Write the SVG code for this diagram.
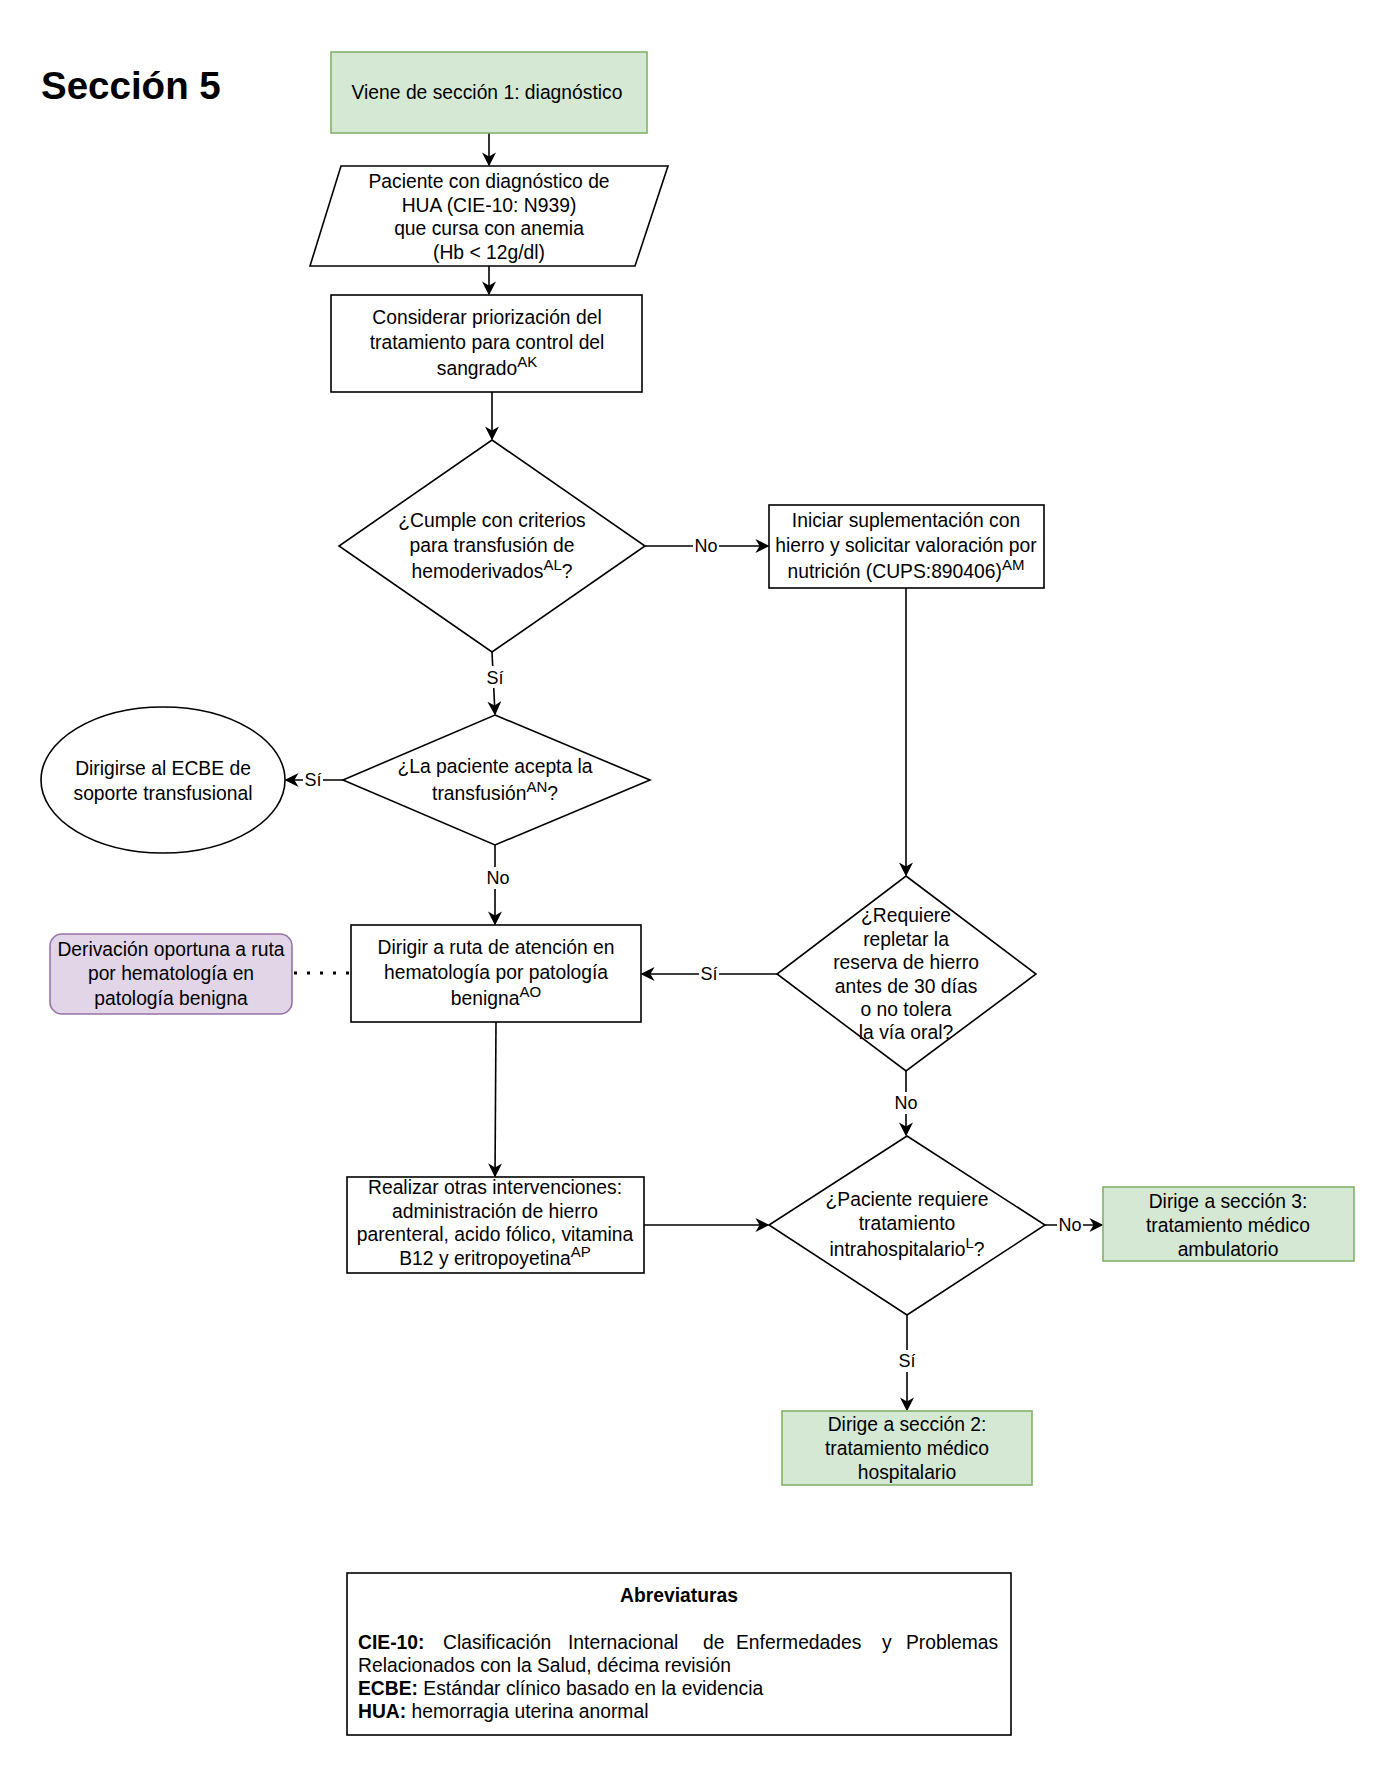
<svg xmlns="http://www.w3.org/2000/svg" width="1400" height="1784" viewBox="0 0 1400 1784">
<defs>
<style>
text{font-family:"Liberation Sans",Arial,sans-serif;font-size:19.3px;fill:#000}
.c{text-anchor:middle}
.sup{font-size:15px}
.box{fill:#fff;stroke:#000;stroke-width:1.6}
.green{fill:#d5e8d4;stroke:#82b366;stroke-width:1.6}
.purple{fill:#e1d5e7;stroke:#9673a6;stroke-width:1.6}
.ln{fill:none;stroke:#000;stroke-width:1.6}
.lbl{font-size:18px;text-anchor:middle}
.lb{fill:#fff}
.b{font-weight:bold}
</style>
<marker id="arrB" viewBox="0 0 10 10" refX="9" refY="5" markerWidth="14" markerHeight="14" markerUnits="userSpaceOnUse" orient="auto">
<path d="M0,0 L10,5 L0,10 L3,5 Z" fill="#000"/>
</marker>
</defs>
<rect width="1400" height="1784" fill="#fff"/>
<text x="41" y="99" class="b" style="font-size:38.5px">Sección 5</text>

<g id="connectors">
<line class="ln" x1="489" y1="133" x2="489" y2="165" marker-end="url(#arrB)"/>
<line class="ln" x1="489" y1="266" x2="489" y2="294" marker-end="url(#arrB)"/>
<line class="ln" x1="492" y1="392" x2="492" y2="439" marker-end="url(#arrB)"/>
<line class="ln" x1="645" y1="546" x2="768" y2="546" marker-end="url(#arrB)"/>
<line class="ln" x1="906" y1="588" x2="906" y2="875" marker-end="url(#arrB)"/>
<line class="ln" x1="492" y1="652" x2="495" y2="714" marker-end="url(#arrB)"/>
<line class="ln" x1="343" y1="780" x2="286" y2="780" marker-end="url(#arrB)"/>
<line class="ln" x1="495" y1="845" x2="495" y2="924" marker-end="url(#arrB)"/>
<line x1="294" y1="973" x2="350" y2="973" stroke="#000" stroke-width="3" stroke-dasharray="3 10"/>
<line class="ln" x1="777" y1="974" x2="642" y2="974" marker-end="url(#arrB)"/>
<line class="ln" x1="906" y1="1071" x2="906" y2="1135" marker-end="url(#arrB)"/>
<line class="ln" x1="496" y1="1022" x2="495" y2="1176" marker-end="url(#arrB)"/>
<line class="ln" x1="644" y1="1225" x2="768" y2="1225" marker-end="url(#arrB)"/>
<line class="ln" x1="1045" y1="1225" x2="1102" y2="1225" marker-end="url(#arrB)"/>
<line class="ln" x1="907" y1="1315" x2="907" y2="1410" marker-end="url(#arrB)"/>
<g>
<rect class="lb" x="693" y="535" width="26" height="22"/><text class="lbl" x="706" y="552">No</text>
<rect class="lb" x="484" y="666" width="22" height="22"/><text class="lbl" x="495" y="684">Sí</text>
<rect class="lb" x="303" y="769" width="20" height="22"/><text class="lbl" x="313" y="786">Sí</text>
<rect class="lb" x="485" y="867" width="26" height="22"/><text class="lbl" x="498" y="884">No</text>
<rect class="lb" x="699" y="963" width="20" height="22"/><text class="lbl" x="709" y="980">Sí</text>
<rect class="lb" x="893" y="1092" width="26" height="22"/><text class="lbl" x="906" y="1109">No</text>
<rect class="lb" x="1057" y="1214" width="26" height="22"/><text class="lbl" x="1070" y="1231">No</text>
<rect class="lb" x="897" y="1350" width="20" height="22"/><text class="lbl" x="907" y="1367">Sí</text>
</g>
</g>

<g id="n1">
<rect class="green" x="331" y="52" width="316" height="81"/>
<text class="c" x="487" y="99">Viene de sección 1: diagnóstico</text>
</g>
<g id="n2">
<polygon class="box" points="341,166 668,166 635,266 310,266"/>
<text class="c" x="489" y="188">Paciente con diagnóstico de</text>
<text class="c" x="489" y="212">HUA (CIE-10: N939)</text>
<text class="c" x="489" y="235">que cursa con anemia</text>
<text class="c" x="489" y="259">(Hb &lt; 12g/dl)</text>
</g>
<g id="n3">
<rect class="box" x="331" y="295" width="311" height="97"/>
<text class="c" x="487" y="324">Considerar priorización del</text>
<text class="c" x="487" y="349">tratamiento para control del</text>
<text class="c" x="487" y="375">sangrado<tspan class="sup" dy="-8">AK</tspan></text>
</g>
<g id="n4">
<polygon class="box" points="492,440 645,546 492,652 339,546"/>
<text class="c" x="492" y="527">¿Cumple con criterios</text>
<text class="c" x="492" y="552">para transfusión de</text>
<text class="c" x="492" y="578">hemoderivados<tspan class="sup" dy="-8">AL</tspan><tspan dy="8">?</tspan></text>
</g>
<g id="n5">
<rect class="box" x="769" y="505" width="275" height="83"/>
<text class="c" x="906" y="527">Iniciar suplementación con</text>
<text class="c" x="906" y="552">hierro y solicitar valoración por</text>
<text class="c" x="906" y="578">nutrición (CUPS:890406)<tspan class="sup" dy="-8">AM</tspan></text>
</g>
<g id="n6">
<polygon class="box" points="495,715 650,780 495,845 343,780"/>
<text class="c" x="495" y="773">¿La paciente acepta la</text>
<text class="c" x="495" y="800">transfusión<tspan class="sup" dy="-8">AN</tspan><tspan dy="8">?</tspan></text>
</g>
<g id="n7">
<ellipse class="box" cx="163" cy="780" rx="122" ry="73"/>
<text class="c" x="163" y="775">Dirigirse al ECBE de</text>
<text class="c" x="163" y="800">soporte transfusional</text>
</g>
<g id="n8">
<rect class="box" x="351" y="925" width="290" height="97"/>
<text class="c" x="496" y="954">Dirigir a ruta de atención en</text>
<text class="c" x="496" y="979">hematología por patología</text>
<text class="c" x="496" y="1005">benigna<tspan class="sup" dy="-8">AO</tspan></text>
</g>
<g id="n9">
<rect class="purple" x="50" y="934" width="242" height="80" rx="12" ry="12"/>
<text class="c" x="171" y="956">Derivación oportuna a ruta</text>
<text class="c" x="171" y="980">por hematología en</text>
<text class="c" x="171" y="1005">patología benigna</text>
</g>
<g id="n10">
<polygon class="box" points="906,876 1036,974 906,1071 777,974"/>
<text class="c" x="906" y="922">¿Requiere</text>
<text class="c" x="906" y="946">repletar la</text>
<text class="c" x="906" y="969">reserva de hierro</text>
<text class="c" x="906" y="993">antes de 30 días</text>
<text class="c" x="906" y="1016">o no tolera</text>
<text class="c" x="906" y="1039">la vía oral?</text>
</g>
<g id="n11">
<rect class="box" x="347" y="1177" width="297" height="96"/>
<text class="c" x="495" y="1194">Realizar otras intervenciones:</text>
<text class="c" x="495" y="1218">administración de hierro</text>
<text class="c" x="495" y="1241">parenteral, acido fólico, vitamina</text>
<text class="c" x="495" y="1265">B12 y eritropoyetina<tspan class="sup" dy="-8">AP</tspan></text>
</g>
<g id="n12">
<polygon class="box" points="907,1136 1045,1225 907,1315 769,1225"/>
<text class="c" x="907" y="1206">¿Paciente requiere</text>
<text class="c" x="907" y="1230">tratamiento</text>
<text class="c" x="907" y="1256">intrahospitalario<tspan class="sup" dy="-8">L</tspan><tspan dy="8">?</tspan></text>
</g>
<g id="n13">
<rect class="green" x="1103" y="1187" width="251" height="74"/>
<text class="c" x="1228" y="1208">Dirige a sección 3:</text>
<text class="c" x="1228" y="1232">tratamiento médico</text>
<text class="c" x="1228" y="1256">ambulatorio</text>
</g>
<g id="n14">
<rect class="green" x="782" y="1411" width="250" height="74"/>
<text class="c" x="907" y="1431">Dirige a sección 2:</text>
<text class="c" x="907" y="1455">tratamiento médico</text>
<text class="c" x="907" y="1479">hospitalario</text>
</g>
<g id="abbrev">
<rect class="box" x="347" y="1573" width="664" height="162"/>
<text class="c b" x="679" y="1602">Abreviaturas</text>
<text y="1649"><tspan x="358" class="b">CIE-10:</tspan><tspan x="443">Clasificación</tspan><tspan x="568">Internacional</tspan><tspan x="703">de</tspan><tspan x="736">Enfermedades</tspan><tspan x="882">y</tspan><tspan x="906">Problemas</tspan></text>
<text x="358" y="1672">Relacionados con la Salud, décima revisión</text>
<text x="358" y="1695"><tspan class="b">ECBE:</tspan> Estándar clínico basado en la evidencia</text>
<text x="358" y="1718"><tspan class="b">HUA:</tspan> hemorragia uterina anormal</text>
</g>
</svg>
